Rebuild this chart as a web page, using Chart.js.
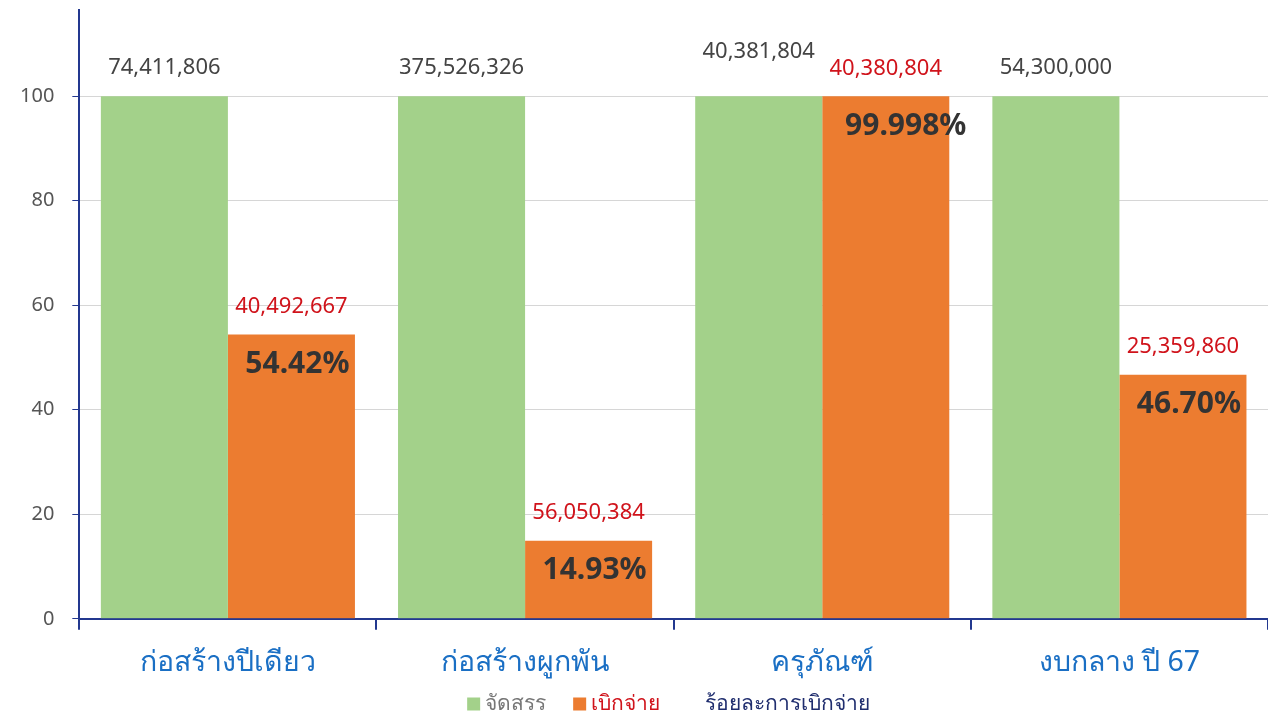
<!DOCTYPE html>
<html>
<head>
<meta charset="utf-8">
<script src="https://cdn.jsdelivr.net/npm/chart.js@4/dist/chart.umd.min.js"></script>
<style>
  html, body { margin: 0; padding: 0; background: #fff; }
  #wrap { width: 1268px; height: 719px; }
</style>
</head>
<body>
<div id="wrap"><canvas id="grafica"></canvas></div>
<script>
// datos
const categorias = ['ก่อสร้างปีเดียว', 'ก่อสร้างผูกพัน', 'ครุภัณฑ์', 'งบกลาง ปี 67'];
const jadsan = [100, 100, 100, 100];
const berkjai = [54.42, 14.93, 99.998, 46.70];
const roila = ['54.42%', '14.93%', '99.998%', '46.70%'];
const montoJadsan = ['74,411,806', '375,526,326', '40,381,804', '54,300,000'];
const montoBerkjai = ['40,492,667', '56,050,384', '40,380,804', '25,359,860'];
const ticksY = [0, 20, 40, 60, 80, 100];

const fuente = "'Noto Sans', sans-serif";
const azulEje = '#23388f';
const coloresLeyenda = ['#777', '#d0131b', '#1f2d6e'];

// etiquetas sobre las barras
const etiquetas = {
  id: 'etiquetas',
  afterDatasetsDraw(chart) {
    const ctx = chart.ctx;
    const verdes = chart.getDatasetMeta(0).data;
    const naranjas = chart.getDatasetMeta(1).data;
    ctx.save();
    ctx.textAlign = 'center';
    ctx.textBaseline = 'middle';
    verdes.forEach((bar, i) => {
      ctx.font = '22px ' + fuente;
      ctx.fillStyle = '#444';
      const dy = i === 2 ? 44 : 28;
      ctx.fillText(montoJadsan[i], bar.x, bar.y - dy);
    });
    naranjas.forEach((bar, i) => {
      ctx.font = '22px ' + fuente;
      ctx.fillStyle = '#d0131b';
      ctx.fillText(montoBerkjai[i], bar.x, bar.y - 28);
      ctx.font = 'bold 30px ' + fuente;
      ctx.fillStyle = '#333';
      const dx = i === 2 ? 20 : 6;
      ctx.fillText(roila[i], bar.x + dx, bar.y + 30);
    });
    ctx.restore();
  }
};

// leyenda dibujada abajo, con un color de texto por serie
const leyenda = {
  id: 'leyenda',
  afterDraw(chart) {
    const ctx = chart.ctx;
    const sets = chart.data.datasets;
    const caja = 13, hueco = 5, separa = 27;
    ctx.save();
    ctx.font = '21px ' + fuente;
    ctx.textBaseline = 'middle';
    ctx.textAlign = 'left';
    const anchos = sets.map(ds => ctx.measureText(ds.label).width);
    const total = anchos.reduce((a, b) => a + b, 0) + sets.length * (caja + hueco) + (sets.length - 1) * separa;
    const centro = (chart.chartArea.left + chart.chartArea.right) / 2 - 5;
    let x = centro - total / 2;
    const y = 704;
    sets.forEach((ds, i) => {
      ctx.fillStyle = ds.backgroundColor;
      ctx.fillRect(x, y - caja / 2, caja, caja);
      x += caja + hueco;
      ctx.fillStyle = coloresLeyenda[i];
      ctx.fillText(ds.label, x, y);
      x += anchos[i] + separa;
    });
    ctx.restore();
  }
};

const ctx = document.getElementById('grafica').getContext('2d');
new Chart(ctx, {
  type: 'bar',
  data: {
    labels: categorias,
    datasets: [
      {
        label: 'จัดสรร',
        data: jadsan,
        backgroundColor: '#a3d18a',
        categoryPercentage: 0.855,
        barPercentage: 1.0
      },
      {
        label: 'เบิกจ่าย',
        data: berkjai,
        backgroundColor: '#ec7c30',
        categoryPercentage: 0.855,
        barPercentage: 1.0
      },
      {
        label: 'ร้อยละการเบิกจ่าย',
        type: 'line',
        data: berkjai,
        showLine: false,
        pointRadius: 0,
        backgroundColor: 'rgba(0,0,0,0)',
        borderColor: 'rgba(0,0,0,0)'
      }
    ]
  },
  options: {
    responsive: true,
    maintainAspectRatio: false,
    animation: false,
    layout: { padding: { left: 2, right: 0, top: 10, bottom: 23 } },
    plugins: {
      tooltip: { enabled: false },
      legend: { display: false }
    },
    scales: {
      x: {
        offset: true,
        border: { color: azulEje, width: 2 },
        grid: {
          offset: true,
          drawOnChartArea: false,
          color: azulEje,
          tickLength: 11,
          lineWidth: 2
        },
        ticks: {
          color: '#1a6fc4',
          font: { family: fuente, size: 28.5 },
          padding: 16
        }
      },
      y: {
        min: 0,
        max: 116.5,
        border: { color: azulEje, width: 2 },
        grid: {
          color: '#d6d6d6',
          tickColor: azulEje,
          tickLength: 7,
          lineWidth: 1
        },
        afterBuildTicks(scale) {
          scale.ticks = ticksY.map(v => ({ value: v }));
        },
        afterFit(scale) {
          scale.paddingTop = 0;
          scale.paddingBottom = 0;
        },
        ticks: {
          color: '#555',
          font: { family: fuente, size: 20 },
          padding: 18
        }
      }
    }
  },
  plugins: [etiquetas, leyenda]
});
</script>
</body>
</html>
